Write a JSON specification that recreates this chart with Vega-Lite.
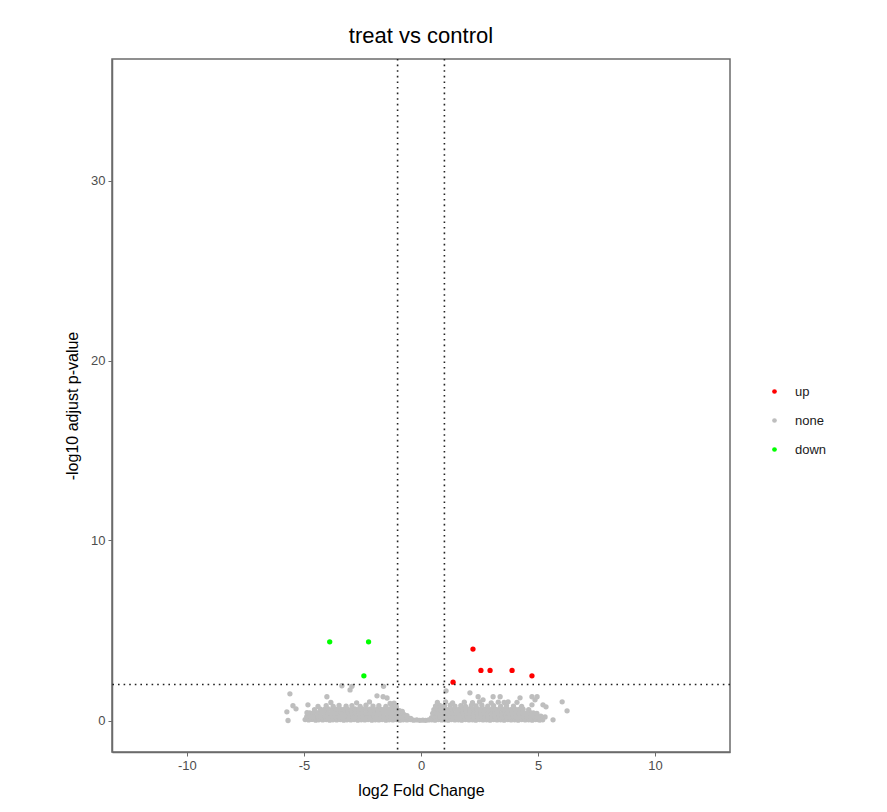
{
  "$schema": "https://vega.github.io/schema/vega-lite/v6.json",
  "width": 618,
  "height": 693,
  "autosize": "none",
  "padding": {"left": 112, "top": 59, "right": 157, "bottom": 60},
  "background": "white",
  "title": {"text": "treat vs control", "fontSize": 22, "font": "Liberation Sans", "fontWeight": "normal", "color": "#000000", "offset": 10, "anchor": "middle"},
  "config": {
    "view": {"stroke": "#6b6b6b", "strokeWidth": 1.5},
    "axis": {"grid": false, "domainColor": "#6b6b6b", "domainWidth": 1.5, "tickColor": "#6b6b6b", "tickSize": 4, "labelColor": "#4d4d4d", "labelFontSize": 13, "labelFont": "Liberation Sans", "titleFont": "Liberation Sans", "titleFontSize": 16, "titleFontWeight": "normal", "titleColor": "#000000", "labelPadding": 3, "labelExpr": "toString(datum.value)"}
  },
  "datasets": {
    "pts": [
      {"x":-4.95,"y":0.05,"g":"none"},{"x":-4.8,"y":0.03,"g":"none"},{"x":-4.66,"y":0.06,"g":"none"},{"x":-4.5,"y":0.02,"g":"none"},{"x":-4.37,"y":0.04,"g":"none"},{"x":-4.2,"y":0.03,"g":"none"},{"x":-4.05,"y":0.05,"g":"none"},{"x":-3.9,"y":0.02,"g":"none"},{"x":-3.76,"y":0.04,"g":"none"},{"x":-3.6,"y":0.03,"g":"none"},{"x":-3.45,"y":0.05,"g":"none"},{"x":-3.3,"y":0.02,"g":"none"},{"x":-3.16,"y":0.04,"g":"none"},{"x":-3.0,"y":0.03,"g":"none"},{"x":-2.86,"y":0.05,"g":"none"},{"x":-2.7,"y":0.02,"g":"none"},{"x":-2.55,"y":0.04,"g":"none"},{"x":-2.4,"y":0.03,"g":"none"},{"x":-2.26,"y":0.05,"g":"none"},{"x":-2.1,"y":0.02,"g":"none"},{"x":-1.95,"y":0.04,"g":"none"},{"x":-1.8,"y":0.03,"g":"none"},{"x":-1.66,"y":0.05,"g":"none"},{"x":-1.5,"y":0.02,"g":"none"},{"x":-1.36,"y":0.04,"g":"none"},{"x":-1.2,"y":0.03,"g":"none"},{"x":-1.05,"y":0.05,"g":"none"},{"x":-0.9,"y":0.02,"g":"none"},{"x":-0.76,"y":0.04,"g":"none"},{"x":-0.6,"y":0.03,"g":"none"},{"x":-0.46,"y":0.05,"g":"none"},{"x":-0.32,"y":0.02,"g":"none"},{"x":-0.18,"y":0.03,"g":"none"},{"x":-0.05,"y":0.01,"g":"none"},{"x":0.08,"y":0.02,"g":"none"},{"x":0.2,"y":0.01,"g":"none"},{"x":0.33,"y":0.03,"g":"none"},
      {"x":0.46,"y":0.04,"g":"none"},{"x":0.6,"y":0.02,"g":"none"},{"x":0.74,"y":0.05,"g":"none"},{"x":0.88,"y":0.03,"g":"none"},{"x":1.02,"y":0.04,"g":"none"},{"x":1.16,"y":0.02,"g":"none"},{"x":1.3,"y":0.05,"g":"none"},{"x":1.45,"y":0.03,"g":"none"},{"x":1.6,"y":0.04,"g":"none"},{"x":1.74,"y":0.02,"g":"none"},{"x":1.9,"y":0.05,"g":"none"},{"x":2.05,"y":0.03,"g":"none"},{"x":2.2,"y":0.04,"g":"none"},{"x":2.34,"y":0.02,"g":"none"},{"x":2.5,"y":0.05,"g":"none"},{"x":2.65,"y":0.03,"g":"none"},{"x":2.8,"y":0.04,"g":"none"},{"x":2.95,"y":0.02,"g":"none"},{"x":3.1,"y":0.05,"g":"none"},{"x":3.25,"y":0.03,"g":"none"},{"x":3.4,"y":0.04,"g":"none"},{"x":3.55,"y":0.02,"g":"none"},{"x":3.7,"y":0.05,"g":"none"},{"x":3.85,"y":0.03,"g":"none"},{"x":4.0,"y":0.04,"g":"none"},{"x":4.15,"y":0.02,"g":"none"},{"x":4.3,"y":0.05,"g":"none"},{"x":4.45,"y":0.03,"g":"none"},{"x":4.6,"y":0.04,"g":"none"},{"x":4.75,"y":0.02,"g":"none"},{"x":4.9,"y":0.05,"g":"none"},{"x":5.05,"y":0.03,"g":"none"},{"x":5.2,"y":0.04,"g":"none"},
      {"x":-4.88,"y":0.22,"g":"none"},{"x":-4.72,"y":0.25,"g":"none"},{"x":-4.58,"y":0.2,"g":"none"},{"x":-4.42,"y":0.24,"g":"none"},{"x":-4.28,"y":0.21,"g":"none"},{"x":-4.12,"y":0.23,"g":"none"},{"x":-3.97,"y":0.2,"g":"none"},{"x":-3.82,"y":0.25,"g":"none"},{"x":-3.68,"y":0.22,"g":"none"},{"x":-3.52,"y":0.24,"g":"none"},{"x":-3.38,"y":0.2,"g":"none"},{"x":-3.22,"y":0.23,"g":"none"},{"x":-3.07,"y":0.21,"g":"none"},{"x":-2.92,"y":0.25,"g":"none"},{"x":-2.78,"y":0.22,"g":"none"},{"x":-2.62,"y":0.24,"g":"none"},{"x":-2.48,"y":0.2,"g":"none"},{"x":-2.32,"y":0.23,"g":"none"},{"x":-2.18,"y":0.21,"g":"none"},{"x":-2.02,"y":0.25,"g":"none"},{"x":-1.88,"y":0.22,"g":"none"},{"x":-1.72,"y":0.24,"g":"none"},{"x":-1.58,"y":0.2,"g":"none"},{"x":-1.42,"y":0.23,"g":"none"},{"x":-1.28,"y":0.21,"g":"none"},{"x":-1.12,"y":0.25,"g":"none"},{"x":-0.98,"y":0.22,"g":"none"},{"x":-0.84,"y":0.2,"g":"none"},{"x":-0.7,"y":0.18,"g":"none"},{"x":-0.56,"y":0.15,"g":"none"},{"x":-0.44,"y":0.12,"g":"none"},
      {"x":0.45,"y":0.16,"g":"none"},{"x":0.55,"y":0.22,"g":"none"},{"x":0.68,"y":0.25,"g":"none"},{"x":0.82,"y":0.21,"g":"none"},{"x":0.96,"y":0.24,"g":"none"},{"x":1.1,"y":0.2,"g":"none"},{"x":1.24,"y":0.23,"g":"none"},{"x":1.38,"y":0.21,"g":"none"},{"x":1.52,"y":0.25,"g":"none"},{"x":1.67,"y":0.22,"g":"none"},{"x":1.82,"y":0.24,"g":"none"},{"x":1.97,"y":0.2,"g":"none"},{"x":2.12,"y":0.23,"g":"none"},{"x":2.27,"y":0.21,"g":"none"},{"x":2.42,"y":0.25,"g":"none"},{"x":2.57,"y":0.22,"g":"none"},{"x":2.72,"y":0.24,"g":"none"},{"x":2.87,"y":0.2,"g":"none"},{"x":3.02,"y":0.23,"g":"none"},{"x":3.17,"y":0.21,"g":"none"},{"x":3.32,"y":0.25,"g":"none"},{"x":3.47,"y":0.22,"g":"none"},{"x":3.62,"y":0.24,"g":"none"},{"x":3.77,"y":0.2,"g":"none"},{"x":3.92,"y":0.23,"g":"none"},{"x":4.07,"y":0.21,"g":"none"},{"x":4.22,"y":0.25,"g":"none"},{"x":4.37,"y":0.22,"g":"none"},{"x":4.52,"y":0.24,"g":"none"},{"x":4.67,"y":0.2,"g":"none"},{"x":4.82,"y":0.23,"g":"none"},{"x":4.97,"y":0.21,"g":"none"},{"x":5.12,"y":0.24,"g":"none"},{"x":5.3,"y":0.2,"g":"none"},
      {"x":-4.75,"y":0.42,"g":"none"},{"x":-4.6,"y":0.4,"g":"none"},{"x":-4.45,"y":0.44,"g":"none"},{"x":-4.3,"y":0.41,"g":"none"},{"x":-4.15,"y":0.45,"g":"none"},{"x":-4.0,"y":0.42,"g":"none"},{"x":-3.85,"y":0.4,"g":"none"},{"x":-3.7,"y":0.44,"g":"none"},{"x":-3.55,"y":0.41,"g":"none"},{"x":-3.4,"y":0.45,"g":"none"},{"x":-3.25,"y":0.42,"g":"none"},{"x":-3.1,"y":0.4,"g":"none"},{"x":-2.95,"y":0.44,"g":"none"},{"x":-2.8,"y":0.41,"g":"none"},{"x":-2.65,"y":0.45,"g":"none"},{"x":-2.5,"y":0.42,"g":"none"},{"x":-2.35,"y":0.4,"g":"none"},{"x":-2.2,"y":0.44,"g":"none"},{"x":-2.05,"y":0.41,"g":"none"},{"x":-1.9,"y":0.45,"g":"none"},{"x":-1.75,"y":0.42,"g":"none"},{"x":-1.6,"y":0.4,"g":"none"},{"x":-1.45,"y":0.44,"g":"none"},{"x":-1.3,"y":0.41,"g":"none"},{"x":-1.15,"y":0.45,"g":"none"},{"x":-1.0,"y":0.42,"g":"none"},{"x":-0.86,"y":0.38,"g":"none"},{"x":-0.72,"y":0.33,"g":"none"},{"x":-0.6,"y":0.27,"g":"none"},
      {"x":0.5,"y":0.4,"g":"none"},{"x":0.63,"y":0.44,"g":"none"},{"x":0.77,"y":0.41,"g":"none"},{"x":0.91,"y":0.45,"g":"none"},{"x":1.05,"y":0.42,"g":"none"},{"x":1.2,"y":0.4,"g":"none"},{"x":1.34,"y":0.44,"g":"none"},{"x":1.5,"y":0.41,"g":"none"},{"x":1.64,"y":0.45,"g":"none"},{"x":1.8,"y":0.42,"g":"none"},{"x":1.95,"y":0.4,"g":"none"},{"x":2.1,"y":0.44,"g":"none"},{"x":2.25,"y":0.41,"g":"none"},{"x":2.4,"y":0.45,"g":"none"},{"x":2.55,"y":0.42,"g":"none"},{"x":2.7,"y":0.4,"g":"none"},{"x":2.85,"y":0.44,"g":"none"},{"x":3.0,"y":0.41,"g":"none"},{"x":3.15,"y":0.45,"g":"none"},{"x":3.3,"y":0.42,"g":"none"},{"x":3.45,"y":0.4,"g":"none"},{"x":3.6,"y":0.44,"g":"none"},{"x":3.75,"y":0.41,"g":"none"},{"x":3.9,"y":0.45,"g":"none"},{"x":4.05,"y":0.42,"g":"none"},{"x":4.2,"y":0.4,"g":"none"},{"x":4.35,"y":0.44,"g":"none"},{"x":4.5,"y":0.41,"g":"none"},{"x":4.65,"y":0.45,"g":"none"},{"x":4.8,"y":0.42,"g":"none"},{"x":4.95,"y":0.4,"g":"none"},
      {"x":-4.55,"y":0.6,"g":"none"},{"x":-4.3,"y":0.63,"g":"none"},{"x":-4.12,"y":0.61,"g":"none"},{"x":-3.96,"y":0.64,"g":"none"},{"x":-3.8,"y":0.6,"g":"none"},{"x":-3.63,"y":0.62,"g":"none"},{"x":-3.47,"y":0.65,"g":"none"},{"x":-3.3,"y":0.61,"g":"none"},{"x":-3.14,"y":0.63,"g":"none"},{"x":-2.98,"y":0.6,"g":"none"},{"x":-2.82,"y":0.64,"g":"none"},{"x":-2.66,"y":0.62,"g":"none"},{"x":-2.5,"y":0.65,"g":"none"},{"x":-2.34,"y":0.61,"g":"none"},{"x":-2.18,"y":0.63,"g":"none"},{"x":-2.02,"y":0.6,"g":"none"},{"x":-1.86,"y":0.64,"g":"none"},{"x":-1.7,"y":0.62,"g":"none"},{"x":-1.54,"y":0.65,"g":"none"},{"x":-1.38,"y":0.61,"g":"none"},{"x":-1.22,"y":0.63,"g":"none"},{"x":-1.06,"y":0.6,"g":"none"},{"x":-0.92,"y":0.55,"g":"none"},{"x":-0.8,"y":0.5,"g":"none"},
      {"x":0.55,"y":0.6,"g":"none"},{"x":0.7,"y":0.63,"g":"none"},{"x":0.85,"y":0.61,"g":"none"},{"x":1.0,"y":0.64,"g":"none"},{"x":1.15,"y":0.6,"g":"none"},{"x":1.3,"y":0.62,"g":"none"},{"x":1.46,"y":0.65,"g":"none"},{"x":1.62,"y":0.61,"g":"none"},{"x":1.78,"y":0.63,"g":"none"},{"x":1.93,"y":0.6,"g":"none"},{"x":2.08,"y":0.64,"g":"none"},{"x":2.24,"y":0.62,"g":"none"},{"x":2.4,"y":0.65,"g":"none"},{"x":2.56,"y":0.61,"g":"none"},{"x":2.72,"y":0.63,"g":"none"},{"x":2.88,"y":0.6,"g":"none"},{"x":3.04,"y":0.64,"g":"none"},{"x":3.2,"y":0.62,"g":"none"},{"x":3.36,"y":0.65,"g":"none"},{"x":3.52,"y":0.61,"g":"none"},{"x":3.68,"y":0.63,"g":"none"},{"x":3.84,"y":0.6,"g":"none"},{"x":4.0,"y":0.64,"g":"none"},{"x":4.18,"y":0.61,"g":"none"},{"x":4.36,"y":0.63,"g":"none"},{"x":4.6,"y":0.6,"g":"none"},
      {"x":-4.4,"y":0.78,"g":"none"},{"x":-4.05,"y":0.82,"g":"none"},{"x":-3.75,"y":0.79,"g":"none"},{"x":-3.5,"y":0.84,"g":"none"},{"x":-3.2,"y":0.8,"g":"none"},{"x":-2.95,"y":0.83,"g":"none"},{"x":-2.6,"y":0.78,"g":"none"},{"x":-2.35,"y":0.85,"g":"none"},{"x":-2.05,"y":0.8,"g":"none"},{"x":-1.8,"y":0.83,"g":"none"},{"x":-1.5,"y":0.79,"g":"none"},{"x":-1.25,"y":0.84,"g":"none"},{"x":-1.05,"y":0.76,"g":"none"},
      {"x":0.62,"y":0.8,"g":"none"},{"x":0.8,"y":0.84,"g":"none"},{"x":1.0,"y":0.81,"g":"none"},{"x":1.25,"y":0.85,"g":"none"},{"x":1.45,"y":0.8,"g":"none"},{"x":1.7,"y":0.83,"g":"none"},{"x":1.9,"y":0.79,"g":"none"},{"x":2.15,"y":0.84,"g":"none"},{"x":2.35,"y":0.81,"g":"none"},{"x":2.6,"y":0.85,"g":"none"},{"x":2.85,"y":0.8,"g":"none"},{"x":3.1,"y":0.83,"g":"none"},{"x":3.4,"y":0.79,"g":"none"},{"x":3.65,"y":0.84,"g":"none"},{"x":3.95,"y":0.8,"g":"none"},{"x":4.3,"y":0.78,"g":"none"},
      {"x":-3.85,"y":1.0,"g":"none"},{"x":-2.75,"y":0.98,"g":"none"},{"x":-2.2,"y":1.03,"g":"none"},{"x":-1.15,"y":0.97,"g":"none"},
      {"x":0.7,"y":1.0,"g":"none"},{"x":1.05,"y":1.04,"g":"none"},{"x":1.35,"y":0.98,"g":"none"},{"x":1.85,"y":1.02,"g":"none"},{"x":2.2,"y":0.99,"g":"none"},{"x":2.5,"y":1.03,"g":"none"},{"x":3.0,"y":0.98,"g":"none"},{"x":3.3,"y":1.02,"g":"none"},{"x":3.55,"y":1.0,"g":"none"},{"x":4.1,"y":1.01,"g":"none"},
      {"x":-5.6,"y":1.48,"g":"none"},{"x":-5.73,"y":0.48,"g":"none"},{"x":-5.47,"y":0.82,"g":"none"},{"x":-5.34,"y":0.65,"g":"none"},{"x":-5.68,"y":0.0,"g":"none"},{"x":-4.83,"y":0.87,"g":"none"},{"x":-4.87,"y":0.43,"g":"none"},{"x":-4.62,"y":0.2,"g":"none"},{"x":-4.02,"y":1.32,"g":"none"},{"x":-3.38,"y":1.93,"g":"none"},{"x":-3.03,"y":1.7,"g":"none"},{"x":-2.95,"y":1.9,"g":"none"},{"x":-1.88,"y":1.37,"g":"none"},{"x":-1.62,"y":1.32,"g":"none"},{"x":-1.6,"y":1.9,"g":"none"},{"x":-1.45,"y":1.25,"g":"none"},{"x":-1.32,"y":0.95,"g":"none"},
      {"x":1.07,"y":1.65,"g":"none"},{"x":2.09,"y":1.54,"g":"none"},{"x":2.44,"y":1.32,"g":"none"},{"x":2.65,"y":1.15,"g":"none"},{"x":3.08,"y":1.32,"g":"none"},{"x":3.38,"y":1.32,"g":"none"},{"x":3.72,"y":1.04,"g":"none"},{"x":4.23,"y":1.26,"g":"none"},{"x":4.74,"y":1.32,"g":"none"},{"x":4.96,"y":1.32,"g":"none"},{"x":4.87,"y":1.15,"g":"none"},{"x":4.74,"y":0.87,"g":"none"},{"x":5.21,"y":0.87,"g":"none"},{"x":5.34,"y":0.76,"g":"none"},{"x":6.03,"y":1.04,"g":"none"},{"x":6.24,"y":0.54,"g":"none"},{"x":5.64,"y":0.04,"g":"none"},{"x":5.09,"y":0.04,"g":"none"},
      {"x":1.37,"y":2.13,"g":"up"},{"x":2.22,"y":3.97,"g":"up"},{"x":2.56,"y":2.78,"g":"up"},{"x":2.95,"y":2.78,"g":"up"},{"x":3.89,"y":2.78,"g":"up"},{"x":4.74,"y":2.48,"g":"up"},
      {"x":-3.9,"y":4.37,"g":"down"},{"x":-2.24,"y":4.37,"g":"down"},{"x":-2.44,"y":2.48,"g":"down"}
    ]
  },
  "layer": [
    {
      "data": {"name": "pts"},
      "mark": {"type": "circle", "size": 28, "opacity": 1},
      "encoding": {
        "x": {"field": "x", "type": "quantitative", "title": "log2 Fold Change", "scale": {"domain": [-13.2, 13.2], "nice": false, "zero": false}, "axis": {"values": [-10, -5, 0, 5, 10], "titlePadding": 10}},
        "y": {"field": "y", "type": "quantitative", "title": "-log10 adjust p-value", "scale": {"domain": [-1.75, 36.75], "nice": false, "zero": false}, "axis": {"values": [0, 10, 20, 30], "titlePadding": 10}},
        "color": {"field": "g", "type": "nominal", "scale": {"domain": ["up", "none", "down"], "range": ["#FF0000", "#BEBEBE", "#00FF00"]},
          "legend": {"title": null, "orient": "none", "legendX": 656, "legendY": 326, "labelFontSize": 13, "labelFont": "Liberation Sans", "labelColor": "#1a1a1a", "symbolType": "circle", "symbolSize": 22, "symbolStrokeWidth": 0, "rowPadding": 15, "labelOffset": 14}}
      }
    },
    {
      "data": {"values": [{"x": -1}, {"x": 1}]},
      "mark": {"type": "rule", "strokeDash": [1.6, 4], "color": "#222222", "strokeWidth": 1.6},
      "encoding": {"x": {"field": "x", "type": "quantitative", "title": "log2 Fold Change"}}
    },
    {
      "data": {"values": [{"y": 2}]},
      "mark": {"type": "rule", "strokeDash": [1.6, 4], "color": "#222222", "strokeWidth": 1.6},
      "encoding": {"y": {"field": "y", "type": "quantitative", "title": "-log10 adjust p-value"}}
    }
  ]
}
